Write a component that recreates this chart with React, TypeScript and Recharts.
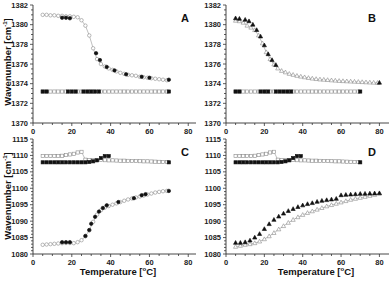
import React from 'react';
import { ComposedChart, Scatter, XAxis, YAxis } from 'recharts';

const FONT = '"Liberation Sans", Arial, sans-serif';
const INK = '#222';
const FRAME = '#333';
const GREY = '#8a8a8a';
const LINE = '#a3a3a3';

// temperatures (°C)
const tStep2 = [5, 7, 9, 11, 13, 15, 17, 19, 21, 23, 25, 27, 29, 31, 33, 35, 37, 39, 41, 43, 45, 47, 49, 51, 53, 55, 57, 59, 61, 63, 65, 67, 69];
const tTriB = [5, 7, 9, 11, 13, 15, 17, 19, 21, 23, 25, 27, 29, 31, 33, 35, 37, 39, 41, 43, 45, 47, 49, 51, 53, 55, 57, 59, 61, 63, 65, 67, 69, 71, 73, 75, 77, 79];
const tStep25 = [5, 7.5, 10, 12.5, 15, 17.5, 20, 22.5, 25, 27.5, 30, 32.5, 35, 37.5, 40, 42.5, 45, 47.5, 50, 52.5, 55, 57.5, 60, 62.5, 65, 67.5, 70, 72.5, 75, 77.5, 80];

// panel A / B: ~1380 band
const aOpenCircle = [1381.0, 1381.0, 1380.95, 1380.95, 1380.9, 1380.9, 1380.85, 1380.85, 1380.8, 1380.75, 1380.45, 1379.9, 1378.9, 1377.6, 1376.5, 1376.0, 1375.75, 1375.55, 1375.4, 1375.25, 1375.1, 1375.0, 1374.9, 1374.85, 1374.8, 1374.7, 1374.65, 1374.6, 1374.55, 1374.5, 1374.45, 1374.4, 1374.35];
const aFilledCircleT = [15, 17, 19, 32.5, 34.5, 38, 42, 48, 56, 60, 70];
const aFilledCircle = [1380.7, 1380.7, 1380.65, 1377.1, 1376.4, 1375.7, 1375.35, 1374.95, 1374.7, 1374.6, 1374.4];

const openSquare1373 = [1373.2, 1373.2, 1373.2, 1373.2, 1373.2, 1373.2, 1373.2, 1373.2, 1373.2, 1373.2, 1373.2, 1373.2, 1373.2, 1373.2, 1373.2, 1373.2, 1373.2, 1373.2, 1373.2, 1373.2, 1373.2, 1373.2, 1373.2, 1373.2, 1373.2, 1373.2, 1373.2, 1373.2, 1373.2, 1373.2, 1373.2, 1373.2, 1373.2];
const filledSquare1373T = [5, 7, 18, 20, 22, 26, 28, 30, 32, 34, 70];
const filledSquare1373 = [1373.2, 1373.2, 1373.2, 1373.2, 1373.2, 1373.2, 1373.2, 1373.2, 1373.2, 1373.2, 1373.2];

const bOpenTri = [1380.4, 1380.35, 1380.2, 1379.9, 1379.7, 1379.45, 1378.9, 1378.1, 1377.2, 1376.5, 1375.95, 1375.55, 1375.3, 1375.15, 1375.0, 1374.9, 1374.8, 1374.72, 1374.65, 1374.58, 1374.52, 1374.47, 1374.43, 1374.4, 1374.37, 1374.34, 1374.31, 1374.28, 1374.26, 1374.24, 1374.22, 1374.2, 1374.18, 1374.16, 1374.14, 1374.12, 1374.1, 1374.08];
const bFilledTriT = [5, 7, 10, 12, 14, 16, 18, 20, 22, 24, 26, 80];
const bFilledTri = [1380.65, 1380.6, 1380.5, 1380.35, 1380.0, 1379.45, 1378.8, 1377.9, 1377.0, 1376.4, 1375.9, 1374.1];

// panel C / D: ~1100 band
const openSquare1108 = [1109.8, 1109.8, 1109.8, 1109.8, 1109.85, 1109.9, 1110.1, 1110.3, 1110.5, 1110.9, 1111.1, 1108.7, 1108.6, 1108.6, 1108.6, 1108.6, 1108.55, 1108.5, 1108.5, 1108.45, 1108.4, 1108.4, 1108.35, 1108.3, 1108.3, 1108.25, 1108.2, 1108.2, 1108.15, 1108.1, 1108.05, 1108.0, 1108.0];
const filledSquare1108T = [5, 7, 9, 11, 13, 15, 17, 19, 21, 23, 25, 27, 29, 31, 33, 35, 37, 39, 70];
const filledSquare1108 = [1107.9, 1107.9, 1107.9, 1107.9, 1107.9, 1107.9, 1107.9, 1107.9, 1107.9, 1107.9, 1107.9, 1107.9, 1108.0, 1108.2, 1108.5, 1109.2, 1109.8, 1109.8, 1107.9];

const cOpenCircle = [1082.8, 1082.9, 1083.0, 1083.1, 1083.2, 1083.3, 1083.35, 1083.35, 1083.3, 1083.6, 1084.2, 1085.4, 1087.2, 1089.8, 1092.0, 1093.3, 1094.1, 1094.6, 1095.0, 1095.4, 1095.8, 1096.2, 1096.6, 1096.9, 1097.2, 1097.5, 1097.8, 1098.1, 1098.4, 1098.7, 1098.9, 1099.1, 1099.2];
const cFilledCircleT = [15, 17, 19, 27, 29, 30, 32, 34, 36, 38, 44, 52, 56, 58, 70];
const cFilledCircle = [1083.6, 1083.6, 1083.6, 1085.5, 1087.3, 1089.2, 1091.3, 1092.9, 1094.0, 1094.8, 1095.8, 1097.0, 1097.9, 1098.2, 1099.2];

const dFilledTri = [1083.4, 1083.4, 1083.6, 1084.1, 1085.0, 1086.1, 1087.6, 1089.1, 1090.4, 1091.4, 1092.3, 1093.1, 1093.7, 1094.3, 1094.8, 1095.2, 1095.5, 1095.9, 1096.2, 1096.4, 1096.6, 1096.8, 1097.9, 1098.0, 1098.1, 1098.2, 1098.3, 1098.35, 1098.4, 1098.45, 1098.5];
const dOpenTri = [1082.2, 1082.5, 1082.8, 1083.0, 1083.3, 1083.8, 1084.5, 1085.4, 1086.4, 1087.5, 1088.5, 1089.5, 1090.4, 1091.2, 1091.9, 1092.5, 1093.0, 1093.5, 1094.0, 1094.5, 1094.9, 1095.3, 1095.7, 1096.1, 1096.5, 1096.8, 1097.1, 1097.4, 1097.7, 1098.0, 1098.4];

// ticks
const xMajor = [0, 20, 40, 60, 80];
const xTicks = [0, 5, 10, 15, 20, 25, 30, 35, 40, 45, 50, 55, 60, 65, 70, 75, 80];
const yMajorTop = [1370, 1372, 1374, 1376, 1378, 1380, 1382];
const yMajorBottom = [1080, 1085, 1090, 1095, 1100, 1105, 1110, 1115];

const withMinor = (majors: number[], step: number) => {
  const out: number[] = [];
  for (let i = 0; i < majors.length - 1; i++) {
    for (let v = majors[i]; v < majors[i + 1] - 1e-6; v += step) out.push(+v.toFixed(2));
  }
  out.push(majors[majors.length - 1]);
  return out;
};

type Shape = 'circle' | 'square' | 'triangle';
interface Series {
  t: number[];
  w: number[];
  shape: Shape;
  filled: boolean;
  line?: boolean;
}

const marker = (shape: Shape, filled: boolean) => (p: any) => {
  const { cx, cy } = p;
  if (cx == null || cy == null) return <g />;
  const fill = filled ? '#111' : '#fff';
  const stroke = filled ? '#111' : GREY;
  if (shape === 'circle') return <circle cx={cx} cy={cy} r={1.75} fill={fill} stroke={stroke} strokeWidth={0.6} />;
  if (shape === 'square')
    return <rect x={cx - 1.6} y={cy - 1.6} width={3.2} height={3.2} fill={fill} stroke={stroke} strokeWidth={0.6} />;
  return (
    <polygon
      points={`${cx},${cy - 2.3} ${cx + 2.1},${cy + 1.5} ${cx - 2.1},${cy + 1.5}`}
      fill={fill}
      stroke={stroke}
      strokeWidth={0.6}
    />
  );
};

const XTick = (props: any) => {
  const { x, y, payload } = props;
  const major = xMajor.includes(payload.value);
  return (
    <g>
      <line x1={x} y1={y} x2={x} y2={y + (major ? 3 : 2)} stroke={FRAME} strokeWidth={0.8} />
      {major && (
        <text x={x} y={y + 8.5} textAnchor="middle" dominantBaseline="central" fontFamily={FONT} fontWeight={700} fontSize={7.5} fill={INK}>
          {payload.value}
        </text>
      )}
    </g>
  );
};

const YTick = (props: any) => {
  const { x, y, payload, majors } = props;
  const major = majors.includes(payload.value);
  return (
    <g>
      <line x1={x} y1={y} x2={x - (major ? 3 : 2)} y2={y} stroke={FRAME} strokeWidth={0.8} />
      {major && (
        <text x={x - 5} y={y} textAnchor="end" dominantBaseline="central" fontFamily={FONT} fontWeight={700} fontSize={7.5} fill={INK}>
          {payload.value}
        </text>
      )}
    </g>
  );
};

interface PanelProps {
  left: number;
  top: number;
  yAxisW: number;
  plotW: number;
  plotH: number;
  xAxisH: number;
  xMax: number;
  yMajor: number[];
  yStep: number;
  series: Series[];
}

const PAD_TOP = 6;

function Panel({ left, top, yAxisW, plotW, plotH, xAxisH, xMax, yMajor, yStep, series }: PanelProps) {
  const yDomain = [yMajor[0], yMajor[yMajor.length - 1]];
  return (
    <div style={{ position: 'absolute', left: left - yAxisW, top: top - PAD_TOP }}>
      <ComposedChart
        width={yAxisW + plotW + 2}
        height={PAD_TOP + plotH + xAxisH}
        margin={{ top: PAD_TOP, right: 2, bottom: 0, left: 0 }}
      >
        <XAxis
          xAxisId="b"
          type="number"
          dataKey="x"
          domain={[0, xMax]}
          ticks={xTicks}
          interval={0}
          tick={<XTick />}
          tickLine={false}
          tickSize={0}
          tickMargin={0}
          height={xAxisH}
          axisLine={{ stroke: FRAME, strokeWidth: 0.9 }}
        />
        <XAxis xAxisId="t" orientation="top" type="number" domain={[0, xMax]} height={0} tick={false} tickLine={false} axisLine={{ stroke: FRAME, strokeWidth: 0.9 }} />
        <YAxis
          yAxisId="l"
          type="number"
          dataKey="y"
          domain={yDomain}
          ticks={withMinor(yMajor, yStep)}
          interval={0}
          tick={<YTick majors={yMajor} />}
          tickLine={false}
          tickSize={0}
          tickMargin={0}
          width={yAxisW}
          axisLine={{ stroke: FRAME, strokeWidth: 0.9 }}
        />
        <YAxis yAxisId="r" orientation="right" type="number" domain={[0, 1]} width={0} tick={false} tickLine={false} axisLine={{ stroke: FRAME, strokeWidth: 0.9 }} />
        {series.map((s, i) => (
          <Scatter
            key={i}
            xAxisId="b"
            yAxisId="l"
            data={s.t.map((x, j) => ({ x, y: s.w[j] }))}
            line={s.line ? { stroke: LINE, strokeWidth: 0.7 } : false}
            shape={marker(s.shape, s.filled)}
            isAnimationActive={false}
          />
        ))}
      </ComposedChart>
    </div>
  );
}

const letterStyle: React.CSSProperties = {
  position: 'absolute',
  transform: 'translate(-50%, -50%)',
  fontFamily: FONT,
  fontWeight: 700,
  fontSize: 11,
  color: '#111',
  lineHeight: 1,
};

const axisTitle: React.CSSProperties = {
  position: 'absolute',
  fontFamily: FONT,
  fontWeight: 700,
  fontSize: 9.5,
  color: '#111',
  whiteSpace: 'nowrap',
  lineHeight: 1,
};

const supStyle: React.CSSProperties = { fontSize: 6, verticalAlign: 'super', lineHeight: 0 };

const squares1373: Series[] = [
  { t: tStep2, w: openSquare1373, shape: 'square', filled: false, line: true },
  { t: filledSquare1373T, w: filledSquare1373, shape: 'square', filled: true },
];
const squares1108: Series[] = [
  { t: tStep2, w: openSquare1108, shape: 'square', filled: false, line: true },
  { t: filledSquare1108T, w: filledSquare1108, shape: 'square', filled: true },
];

export default function App() {
  return (
    <div style={{ position: 'absolute', left: 0, top: 0, width: 392, height: 281, background: '#fff' }}>
      <Panel
        left={33} top={5} yAxisW={33} plotW={163} plotH={118} xAxisH={14} xMax={84}
        yMajor={yMajorTop} yStep={0.5}
        series={[
          ...squares1373,
          { t: tStep2, w: aOpenCircle, shape: 'circle', filled: false, line: true },
          { t: aFilledCircleT, w: aFilledCircle, shape: 'circle', filled: true },
        ]}
      />
      <Panel
        left={226} top={5} yAxisW={30} plotW={163} plotH={118} xAxisH={14} xMax={85}
        yMajor={yMajorTop} yStep={0.5}
        series={[
          ...squares1373,
          { t: tTriB, w: bOpenTri, shape: 'triangle', filled: false, line: true },
          { t: bFilledTriT, w: bFilledTri, shape: 'triangle', filled: true },
        ]}
      />
      <Panel
        left={33} top={139} yAxisW={33} plotW={163} plotH={115} xAxisH={26} xMax={84}
        yMajor={yMajorBottom} yStep={1}
        series={[
          ...squares1108,
          { t: tStep2, w: cOpenCircle, shape: 'circle', filled: false, line: true },
          { t: cFilledCircleT, w: cFilledCircle, shape: 'circle', filled: true },
        ]}
      />
      <Panel
        left={226} top={139} yAxisW={30} plotW={163} plotH={115} xAxisH={26} xMax={85}
        yMajor={yMajorBottom} yStep={1}
        series={[
          ...squares1108,
          { t: tStep25, w: dOpenTri, shape: 'triangle', filled: false, line: true },
          { t: tStep25, w: dFilledTri, shape: 'triangle', filled: true },
        ]}
      />

      <div style={{ ...letterStyle, left: 185, top: 18 }}>A</div>
      <div style={{ ...letterStyle, left: 372, top: 18 }}>B</div>
      <div style={{ ...letterStyle, left: 185, top: 152 }}>C</div>
      <div style={{ ...letterStyle, left: 372, top: 152 }}>D</div>

      <div style={{ ...axisTitle, left: 8, top: 62, transform: 'translate(-50%, -50%) rotate(-90deg)' }}>
        Wavenumber [cm<sup style={supStyle}>-1</sup>]
      </div>
      <div style={{ ...axisTitle, left: 8, top: 196, transform: 'translate(-50%, -50%) rotate(-90deg)' }}>
        Wavenumber [cm<sup style={supStyle}>-1</sup>]
      </div>
      <div style={{ ...axisTitle, left: 118, top: 272, transform: 'translate(-50%, -50%)' }}>
        Temperature [<sup style={supStyle}>o</sup>C]
      </div>
      <div style={{ ...axisTitle, left: 316, top: 272, transform: 'translate(-50%, -50%)' }}>
        Temperature [<sup style={supStyle}>o</sup>C]
      </div>
    </div>
  );
}
